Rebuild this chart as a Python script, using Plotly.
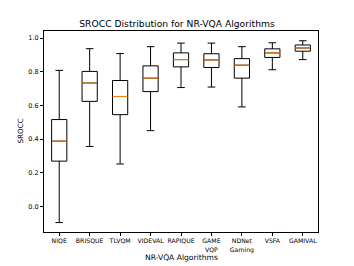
import plotly.graph_objects as go

categories = ["NIQE", "BRISQUE", "TLVQM", "VIDEVAL", "RAPIQUE",
              "GAME<br>VQP", "NDNet<br>Gaming", "VSFA", "GAMIVAL"]
lower_whisker = [-0.096, 0.356, 0.252, 0.450, 0.706, 0.709, 0.591, 0.812, 0.872]
q1_values     = [0.269, 0.624, 0.545, 0.682, 0.829, 0.825, 0.762, 0.885, 0.922]
median_values = [0.388, 0.733, 0.653, 0.762, 0.872, 0.870, 0.839, 0.912, 0.941]
q3_values     = [0.516, 0.802, 0.748, 0.835, 0.912, 0.907, 0.878, 0.936, 0.959]
upper_whisker = [0.808, 0.937, 0.908, 0.949, 0.970, 0.970, 0.949, 0.972, 0.984]
y_ticks = [0.0, 0.2, 0.4, 0.6, 0.8, 1.0]

positions = list(range(1, len(categories) + 1))
box_w = 0.5

fig = go.Figure()
fig.add_trace(go.Box(
    x=positions, q1=q1_values, median=median_values, q3=q3_values,
    lowerfence=lower_whisker, upperfence=upper_whisker,
    width=box_w, whiskerwidth=0.5,
    fillcolor="white", line=dict(color="black", width=1),
    boxpoints=False, showlegend=False, hoverinfo="skip",
))

mx, my = [], []
for p, m in zip(positions, median_values):
    mx += [p - box_w / 2, p + box_w / 2, None]
    my += [m, m, None]
fig.add_trace(go.Scatter(x=mx, y=my, mode="lines",
                         line=dict(color="#ff7f0e", width=1),
                         showlegend=False, hoverinfo="skip"))

font = "DejaVu Sans"
fig.update_layout(
    width=354, height=266,
    margin=dict(l=44, r=36, t=31, b=29),
    plot_bgcolor="white", paper_bgcolor="white",
    font=dict(family=font, size=6.5, color="black"),
    title=dict(text="SROCC Distribution for NR-VQA Algorithms",
               x=0.5, xref="container", xanchor="center",
               y=1 - 24 / 266, yref="container", yanchor="middle",
               font=dict(family=font, size=9.2, color="black")),
    xaxis=dict(range=[0.5, 9.5], tickmode="array", tickvals=positions,
               ticktext=categories, showgrid=False, zeroline=False,
               showline=True, mirror=True, linecolor="black", linewidth=1,
               ticks="outside", ticklen=3, tickcolor="black", tickwidth=1,
               tickfont=dict(size=6.2)),
    yaxis=dict(range=[-0.152, 1.042], tickmode="array", tickvals=y_ticks,
               tickformat=".1f", showgrid=False, zeroline=False,
               showline=True, mirror=True, linecolor="black", linewidth=1,
               ticks="outside", ticklen=3, tickcolor="black", tickwidth=1,
               tickfont=dict(size=6.5)),
    annotations=[
        dict(text="NR-VQA Algorithms", x=0.5, y=0, xref="paper", yref="paper",
             xanchor="center", yanchor="middle", yshift=-25, showarrow=False,
             font=dict(family=font, size=7.6, color="black")),
        dict(text="SROCC", x=0, y=0.5, xref="paper", yref="paper",
             xanchor="center", yanchor="middle", xshift=-24, textangle=-90,
             showarrow=False, font=dict(family=font, size=7.2, color="black")),
    ],
)

fig.write_html("out.html", config={"displayModeBar": False},
               post_script="document.body.style.margin='0';document.body.style.overflow='hidden';")
